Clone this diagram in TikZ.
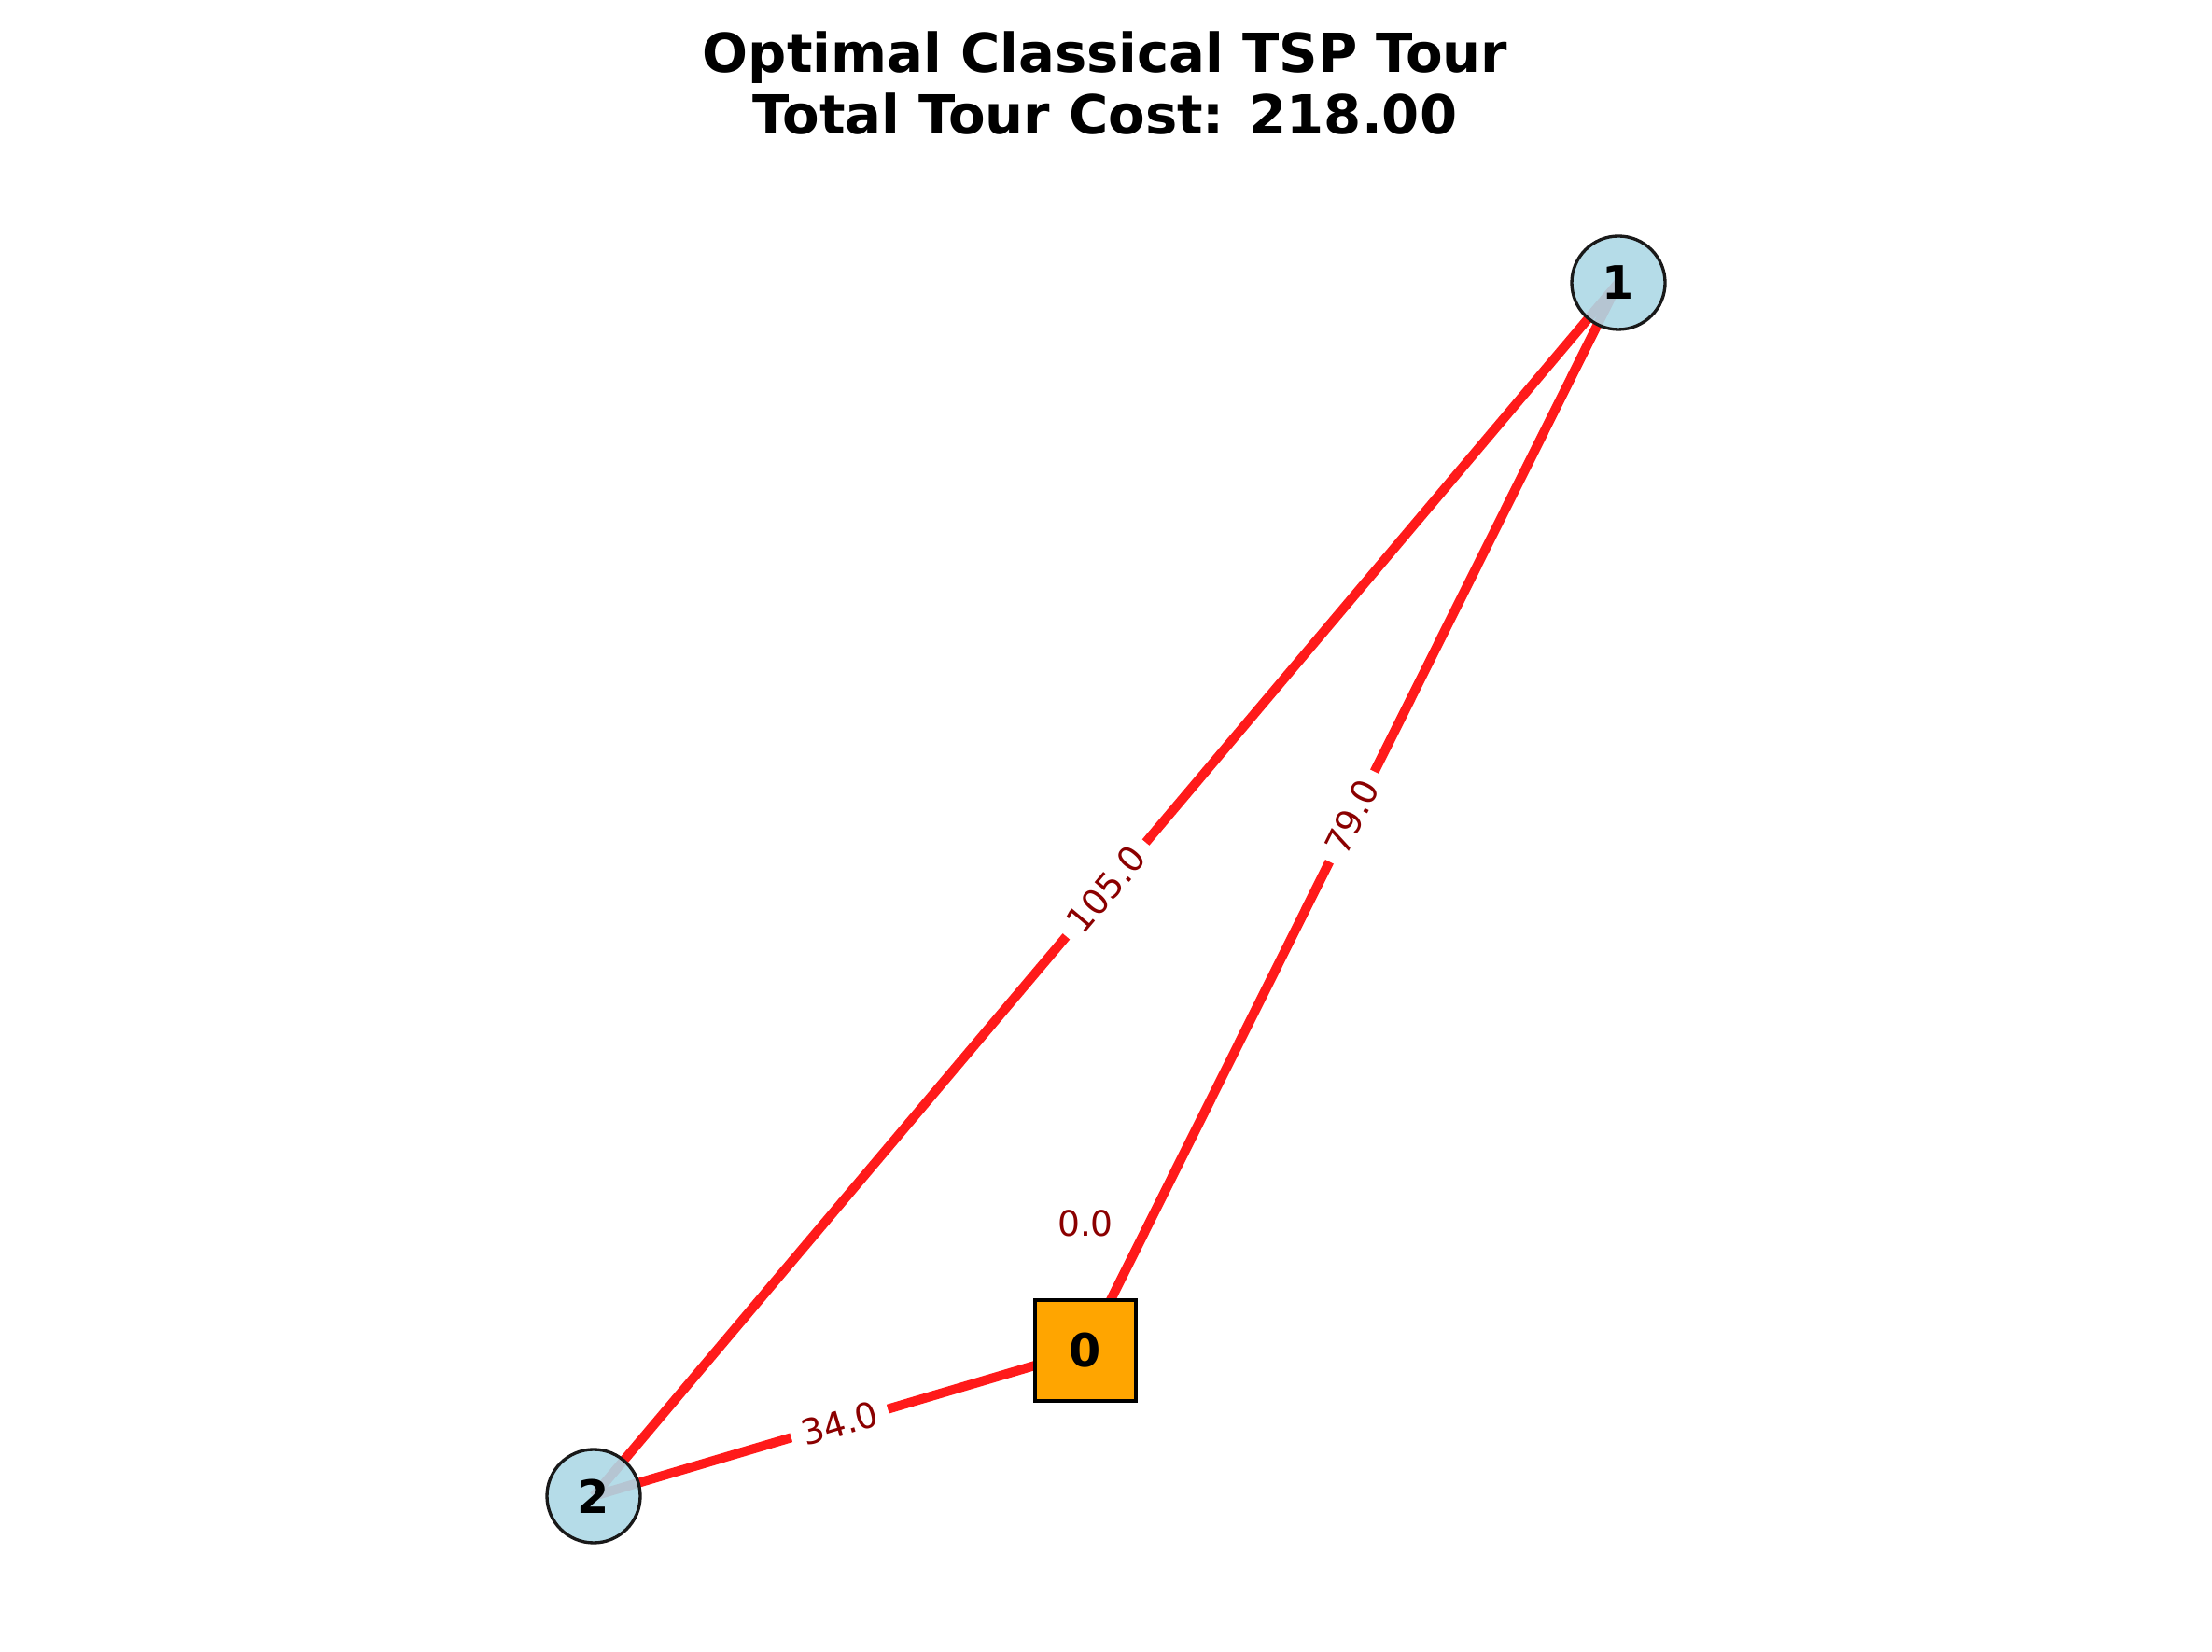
\documentclass[tikz,border=0pt]{standalone}
\usepackage{fontspec}
\setmainfont{DejaVu Sans}
\usetikzlibrary{positioning,backgrounds}
\definecolor{tourred}{RGB}{255,26,26}
\definecolor{costred}{RGB}{139,0,0}
\definecolor{cityblue}{RGB}{173,216,230}
\definecolor{depotorange}{RGB}{255,165,0}

\begin{document}
\begin{tikzpicture}[
  city/.style={draw=black!90,circle,fill=cityblue,fill opacity=0.9,text opacity=1,minimum size=1.0cm,inner sep=0pt,line width=0.95pt,font=\fontsize{14}{16.8}\selectfont\bfseries},
  depot/.style={draw=black,rectangle,fill=depotorange,minimum size=1.08cm,inner sep=0pt,line width=1.14pt,font=\fontsize{14}{16.8}\selectfont\bfseries},
  tour/.style={draw=tourred,line width=2.85pt},
  cost/.style={fill=white,text=costred,inner sep=0.12cm,font=\fontsize{10.7}{12.8}\selectfont}
]
\useasboundingbox (0,0) rectangle (23.7,17.7);

\node[align=center,font=\fontsize{16.4}{18.8}\selectfont\bfseries] (title) at (11.84,16.81) {Optimal Classical TSP Tour\\Total Tour Cost: 218.00};

\node[depot] (n0) at (11.63,3.23) {0};
\node[city] (n1) at (17.34,14.67) {1};
\node[city] (n2) at (6.36,1.67) {2};
\node[cost,above=0.53cm of n0] (loop0) {0.0};

\begin{scope}[on background layer]
\path (n2.center) edge[tour] node[cost,sloped] {105.0} (n1.center)
(n0.center) edge[tour] node[cost,sloped] {79.0} (n1.center)
(n2.center) edge[tour] node[cost,sloped] {34.0} (n0.center);
\end{scope}

\end{tikzpicture}
\end{document}
